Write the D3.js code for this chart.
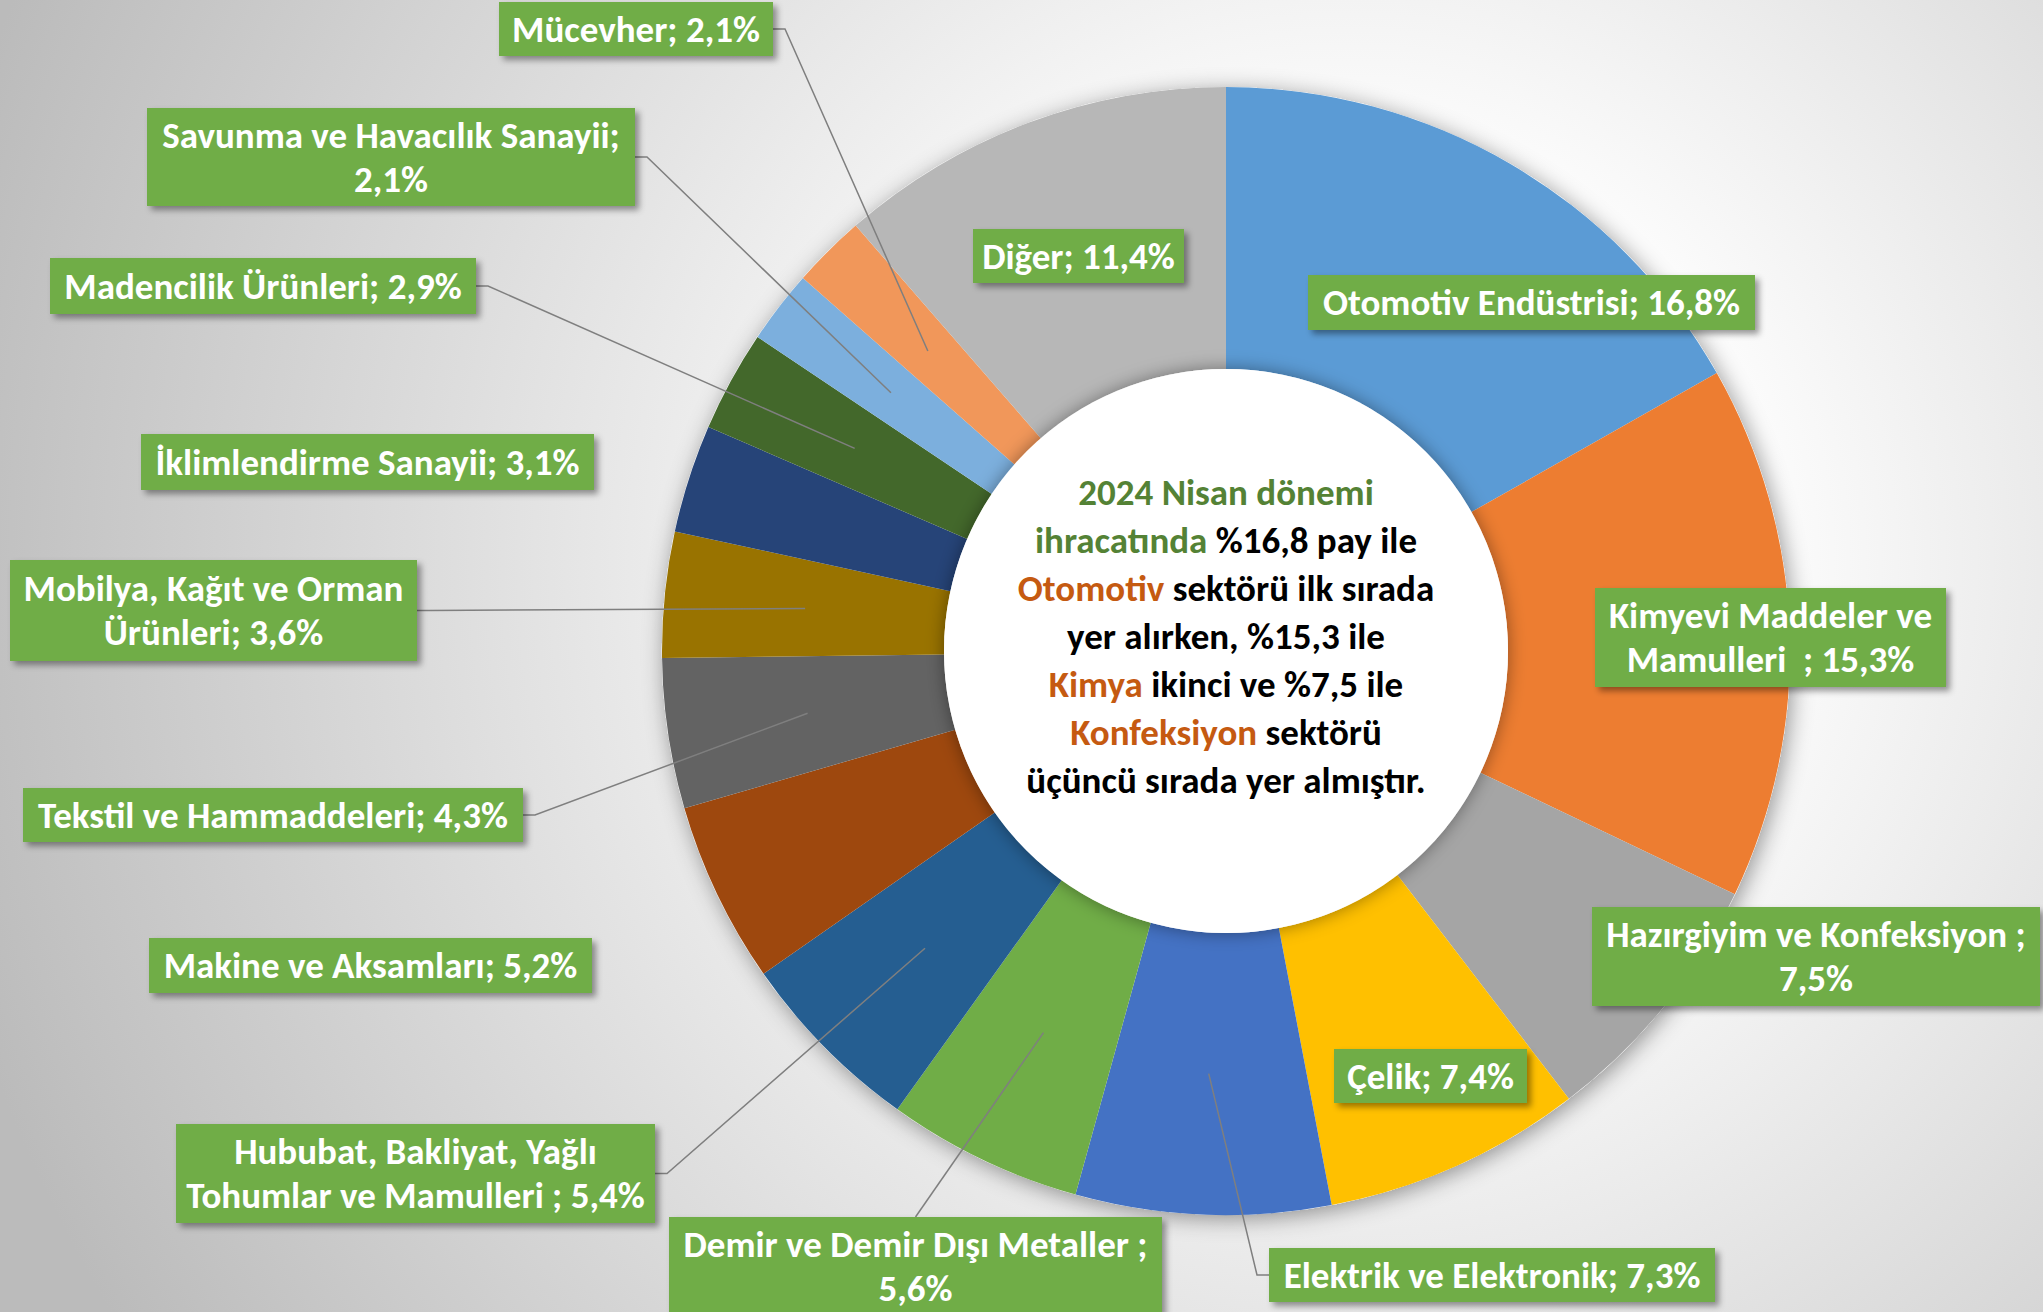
<!DOCTYPE html>
<html>
<head>
<meta charset="utf-8">
<script src="https://cdn.jsdelivr.net/npm/d3@7"></script>
<style>
  body { margin: 0; background: #fff; }
  svg text { font-family: Carlito, Lato, sans-serif; font-weight: bold; white-space: pre; }
</style>
</head>
<body>
<svg id="chart" width="2043" height="1312"></svg>
<script>
// sector shares, clockwise from 12 o'clock
var categories = [
  "Otomotiv Endüstrisi",
  "Kimyevi Maddeler ve Mamulleri  ",
  "Hazırgiyim ve Konfeksiyon ",
  "Çelik",
  "Elektrik ve Elektronik",
  "Demir ve Demir Dışı Metaller ",
  "Hububat, Bakliyat, Yağlı Tohumlar ve Mamulleri ",
  "Makine ve Aksamları",
  "Tekstil ve Hammaddeleri",
  "Mobilya, Kağıt ve Orman Ürünleri",
  "İklimlendirme Sanayii",
  "Madencilik Ürünleri",
  "Savunma ve Havacılık Sanayii",
  "Mücevher",
  "Diğer"
];
var values = [16.8, 15.3, 7.5, 7.4, 7.3, 5.6, 5.4, 5.2, 4.3, 3.6, 3.1, 2.9, 2.1, 2.1, 11.4];
var colors = ["#5B9BD5", "#ED7D31", "#A5A5A5", "#FFC000", "#4472C4", "#70AD47", "#255E91",
              "#9E480E", "#636363", "#997300", "#264478", "#43682B", "#7CAFDD", "#F1975A", "#B7B7B7"];

// centre note
var noteLines = [
  [["2024 Nisan dönemi", "#548235"]],
  [["ihracatında", "#548235"], [" %16,8 pay ile", "#000"]],
  [["Otomotiv", "#C55A11"], [" sektörü ilk sırada", "#000"]],
  [["yer alırken, %15,3 ile", "#000"]],
  [["Kimya", "#C55A11"], [" ikinci ve %7,5 ile", "#000"]],
  [["Konfeksiyon", "#C55A11"], [" sektörü", "#000"]],
  [["üçüncü sırada yer almıştır.", "#000"]]
];

// label boxes (same order as categories)
var boxes = [
  {x: 1308, y: 275, w: 447, h: 55},
  {x: 1595, y: 588, w: 351, h: 99, split: "Mamulleri"},
  {x: 1592, y: 907, w: 448, h: 99, split: "7,5%"},
  {x: 1334, y: 1049, w: 193, h: 54},
  {x: 1269, y: 1248, w: 446, h: 54, leader: "left"},
  {x: 669, y: 1217, w: 493, h: 98, split: "5,6%", leader: "top"},
  {x: 176, y: 1124, w: 479, h: 99, split: "Tohumlar", leader: "right"},
  {x: 149, y: 938, w: 443, h: 55},
  {x: 23, y: 788, w: 500, h: 54, leader: "right"},
  {x: 10, y: 560, w: 407, h: 101, split: "Ürünleri", leader: "right"},
  {x: 141, y: 434, w: 453, h: 56},
  {x: 50, y: 258, w: 426, h: 56, leader: "right"},
  {x: 147, y: 108, w: 488, h: 98, split: "2,1%", leader: "right"},
  {x: 499, y: 2, w: 274, h: 54, leader: "right"},
  {x: 973, y: 229, w: 211, h: 54}
];

var svg = d3.select("#chart"),
    width = +svg.attr("width"),
    height = +svg.attr("height"),
    cx = 1226, cy = 651,
    outerR = 564, innerR = 282,
    fontSize = 37, lineH = 44;

var defs = svg.append("defs");

var bg = defs.append("radialGradient")
    .attr("id", "bg")
    .attr("gradientUnits", "userSpaceOnUse")
    .attr("cx", 1350).attr("cy", 560).attr("r", 1450);
bg.append("stop").attr("offset", "0").attr("stop-color", "#ffffff");
bg.append("stop").attr("offset", "0.3").attr("stop-color", "#fbfbfb");
bg.append("stop").attr("offset", "1").attr("stop-color", "#bbbbbb");

function shadow(id, dx, dy, sd, op) {
  defs.append("filter")
      .attr("id", id)
      .attr("x", "-20%").attr("y", "-20%").attr("width", "140%").attr("height", "140%")
    .append("feDropShadow")
      .attr("dx", dx).attr("dy", dy)
      .attr("stdDeviation", sd)
      .attr("flood-color", "#000")
      .attr("flood-opacity", op);
}
shadow("ringShadow", 3, 4, 11, 0.4);
shadow("holeShadow", 0, 0, 9, 0.4);
shadow("boxShadow", 4, 4, 3, 0.4);

svg.append("rect")
    .attr("width", width)
    .attr("height", height)
    .attr("fill", "url(#bg)");

var pie = d3.pie().sort(null).value(function(d) { return d; });
var arcs = pie(values);

var arc = d3.arc().innerRadius(innerR).outerRadius(outerR);
var full = d3.arc().innerRadius(0).outerRadius(outerR);

var g = svg.append("g")
    .attr("transform", "translate(" + cx + "," + cy + ")");

// soft shadow under the ring
g.append("path")
    .attr("d", full({startAngle: 0, endAngle: 2 * Math.PI}))
    .attr("fill", "#fff")
    .attr("filter", "url(#ringShadow)");

g.selectAll(".slice")
  .data(arcs)
  .enter().append("path")
    .attr("class", "slice")
    .attr("d", arc)
    .attr("fill", function(d, i) { return colors[i]; });

// white hole with its own shadow
g.append("circle")
    .attr("r", innerR)
    .attr("fill", "#fff")
    .attr("filter", "url(#holeShadow)");

// centre note
var note = g.append("text")
    .attr("text-anchor", "middle")
    .style("font-size", "37px");
noteLines.forEach(function(line, i) {
  var t = note.append("tspan")
      .attr("x", 0)
      .attr("y", -146 + i * 48);
  line.forEach(function(seg) {
    t.append("tspan").attr("fill", seg[1]).text(seg[0]);
  });
});

// leader lines
var leaders = svg.append("g")
    .attr("fill", "none")
    .attr("stroke", "#7f7f7f")
    .attr("stroke-width", 1.5);

arcs.forEach(function(d, i) {
  var b = boxes[i];
  if (!b.leader) return;
  var c = arc.centroid(d),
      px = cx + c[0], py = cy + c[1],
      pts;
  if (b.leader === "right") {
    pts = [[b.x + b.w, b.y + b.h / 2], [b.x + b.w + 12, b.y + b.h / 2], [px, py]];
  } else if (b.leader === "left") {
    pts = [[b.x, b.y + b.h / 2], [b.x - 12, b.y + b.h / 2], [px, py]];
  } else {
    pts = [[b.x + b.w / 2, b.y], [px, py]];
  }
  leaders.append("path").attr("d", d3.line()(pts));
});

// label boxes
var labels = svg.selectAll(".label")
  .data(arcs)
  .enter().append("g")
    .attr("class", "label");

labels.append("rect")
    .attr("x", function(d, i) { return boxes[i].x; })
    .attr("y", function(d, i) { return boxes[i].y; })
    .attr("width", function(d, i) { return boxes[i].w; })
    .attr("height", function(d, i) { return boxes[i].h; })
    .attr("fill", "#70AD47")
    .attr("filter", "url(#boxShadow)");

labels.each(function(d, i) {
  var b = boxes[i],
      txt = categories[i] + "; " + String(values[i]).replace(".", ",") + "%",
      lines = [txt];
  if (b.split) {
    var k = txt.indexOf(b.split, 1);
    lines = [txt.slice(0, k).replace(/\s+$/, ""), txt.slice(k)];
  }
  var t = d3.select(this).append("text")
      .attr("text-anchor", "middle")
      .attr("fill", "#fff")
      .style("font-size", fontSize + "px");
  lines.forEach(function(s, j) {
    t.append("tspan")
        .attr("x", b.x + b.w / 2)
        .attr("y", b.y + b.h / 2 + (j - (lines.length - 1) / 2) * lineH + fontSize * 0.34)
        .text(s);
  });
});
</script>
</body>
</html>
